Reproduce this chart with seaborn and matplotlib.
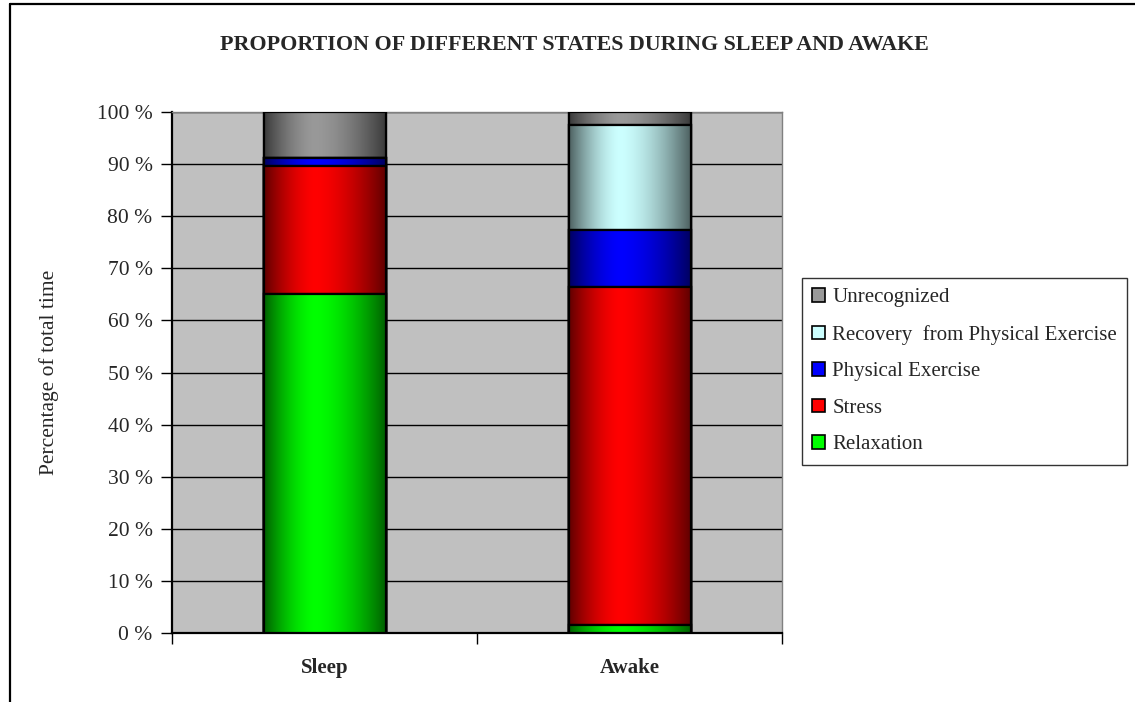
import numpy as np
import pandas as pd
import matplotlib
matplotlib.use("Agg")
import matplotlib.pyplot as plt
import matplotlib.colors as mcolors
from matplotlib.patches import Rectangle, Patch
from matplotlib.lines import Line2D
import seaborn as sns

# --- data -------------------------------------------------------------
conditions = ["Sleep", "Awake"]
states = ["Relaxation", "Stress", "Physical Exercise",
          "Recovery  from Physical Exercise", "Unrecognized"]
relaxation = [65.0, 1.5]
stress = [24.6, 65.0]
physical_exercise = [1.6, 10.9]
recovery = [0.0, 20.1]
unrecognized = [8.8, 2.5]
state_colors = ["#00FF00", "#FF0000", "#0000FF", "#CCFFFF", "#999999"]
ytick_values = list(range(0, 101, 10))
ytick_labels = [f"{v} %" for v in ytick_values]

series = [relaxation, stress, physical_exercise, recovery, unrecognized]
cumulative = np.cumsum(np.array(series), axis=0)

sns.set_theme(style="white")
plt.rcParams["font.family"] = ["Liberation Serif", "DejaVu Serif"]

fig = plt.figure(figsize=(11.35, 7.02), dpi=100)
ax = fig.add_axes([172 / 1135, 1 - 633 / 702, 610 / 1135, 521 / 702])
ax.set_facecolor("#C0C0C0")


def shade_profile(n=256):
    t = np.linspace(0, 1, n)
    centre = 0.42
    d = np.where(t < centre, (centre - t) / centre, (t - centre) / (1 - centre))
    return 1.0 - 0.62 * d ** 1.6


profile = shade_profile()

# stacked bars: draw the tallest cumulative layer first, smaller ones on top
for layer in range(len(states) - 1, -1, -1):
    df = pd.DataFrame({"condition": conditions, "value": cumulative[layer]})
    n_before = len(ax.patches)
    sns.barplot(data=df, x="condition", y="value", color=state_colors[layer],
                width=0.4, edgecolor="black", linewidth=1.6, saturation=1,
                ax=ax, zorder=10 + 3 * (4 - layer))
    base = np.array(mcolors.to_rgb(state_colors[layer]))
    img = np.clip(profile[:, None] * base[None, :], 0, 1)[None, :, :]
    for p in ax.patches[n_before:]:
        z = p.get_zorder()
        x0, y0 = p.get_x(), p.get_y()
        w, h = p.get_width(), p.get_height()
        ax.imshow(img, extent=(x0, x0 + w, y0, y0 + h), aspect="auto",
                  interpolation="bilinear", zorder=z + 0.5)
        ax.add_patch(Rectangle((x0, y0), w, h, facecolor="none",
                               edgecolor="black", linewidth=1.6, zorder=z + 1))

ax.set_xlim(-0.5, 1.5)
ax.set_ylim(0, 100)
ax.set_yticks(ytick_values)
ax.set_yticklabels(ytick_labels, fontsize=15.5)
ax.grid(axis="y", color="black", linewidth=1.0, zorder=1)
ax.set_axisbelow(True)

ax.set_xticks([0, 1])
ax.set_xticklabels(conditions, fontsize=15, fontweight="bold")
ax.tick_params(axis="x", length=0, pad=18)
ax.set_xticks([-0.5, 0.5, 1.5], minor=True)
ax.tick_params(axis="x", which="minor", length=8, width=1.0, color="black",
               direction="out", bottom=True)
ax.tick_params(axis="y", length=8, width=1.0, color="black", direction="out",
               left=True, pad=6)

for side in ["left", "bottom"]:
    ax.spines[side].set_color("black")
    ax.spines[side].set_linewidth(1.6)
ax.spines["top"].set_color("#808080")
ax.spines["right"].set_color("#808080")
ax.spines["top"].set_linewidth(1.0)
ax.spines["right"].set_linewidth(1.0)

ax.set_xlabel("")
ax.set_ylabel("Percentage of total time", fontsize=15.5)
ax.yaxis.set_label_coords(-0.186, 0.5)

fig.text(0.5 * (218 + 930) / 1135, 1 - 45 / 702,
         "PROPORTION OF DIFFERENT STATES DURING SLEEP AND AWAKE",
         ha="center", va="center", fontsize=15.8, fontweight="bold")

handles = [Patch(facecolor=state_colors[i], edgecolor="black", linewidth=1.2)
           for i in range(len(states) - 1, -1, -1)]
labels = [states[i] for i in range(len(states) - 1, -1, -1)]
leg = fig.legend(handles, labels, loc="upper left",
                 bbox_to_anchor=(802 / 1135, 1 - 278 / 702),
                 fontsize=15, frameon=True, fancybox=False,
                 handlelength=0.6, handleheight=0.6, handletextpad=0.35,
                 labelspacing=0.84, borderpad=0.5, borderaxespad=0)
leg.get_frame().set_edgecolor("black")
leg.get_frame().set_linewidth(1.0)

# outer frame lines along the top and left of the figure
fig.add_artist(Line2D([10 / 1135, 1], [1 - 4 / 702, 1 - 4 / 702],
                      transform=fig.transFigure, color="black", linewidth=1.6))
fig.add_artist(Line2D([10 / 1135, 10 / 1135], [0, 1 - 4 / 702],
                      transform=fig.transFigure, color="black", linewidth=1.6))

fig.savefig("out.png", dpi=100)
